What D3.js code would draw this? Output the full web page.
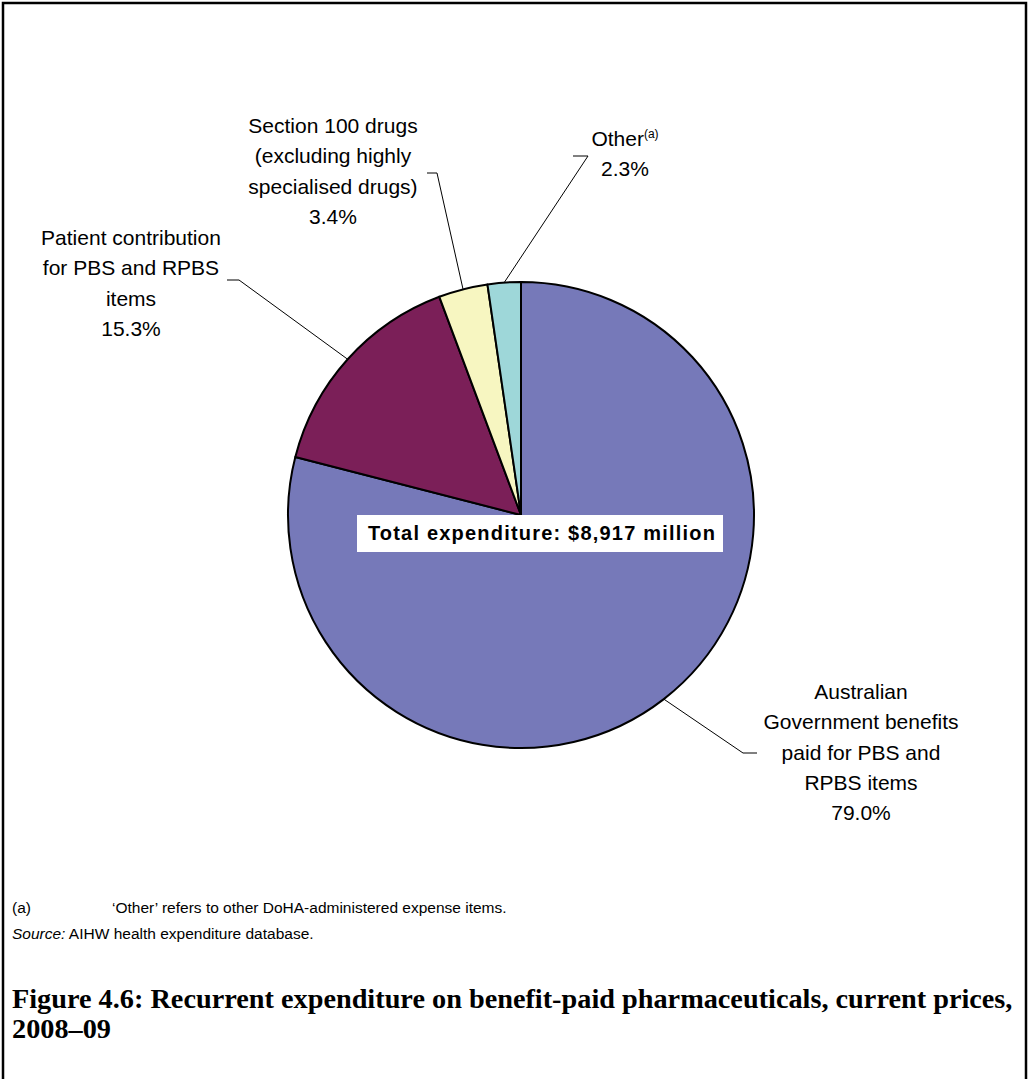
<!DOCTYPE html>
<html><head><meta charset="utf-8">
<script src="https://cdn.jsdelivr.net/npm/d3@7"></script>
<style>body{margin:0;background:#fff}svg{display:block}</style>
</head><body>
<script>
const categories = ["Australian Government benefits paid for PBS and RPBS items",
  "Patient contribution for PBS and RPBS items",
  "Section 100 drugs (excluding highly specialised drugs)",
  "Other"];
const values = [79.0, 15.3, 3.4, 2.3];
const colors = ["#7679B9", "#7B1F58", "#F7F6C1", "#9ED7D9"];
const labelLines = [
  ["Australian", "Government benefits", "paid for PBS and", "RPBS items", "79.0%"],
  ["Patient contribution", "for PBS and RPBS", "items", "15.3%"],
  ["Section 100 drugs", "(excluding highly", "specialised drugs)", "3.4%"],
  ["Other", "2.3%"]
];
// layout (positions only)
const labelPos = [
  {x: 861, y: 699, elbow: [743, 753], end: [757, 753]},
  {x: 131, y: 245, elbow: [239, 280], end: [227, 280]},
  {x: 333, y: 133, elbow: [437, 173], end: [427, 173]},
  {x: 625, y: 146, elbow: [588, 156], end: [573, 156]}
];

const W = 1029, H = 1079;
const svg = d3.select("body").append("svg").attr("width", W).attr("height", H);
svg.append("rect").attr("x", 3).attr("y", 3).attr("width", 1023).attr("height", 1100)
  .attr("fill", "#fff").attr("stroke", "#000").attr("stroke-width", 2.5);

const cx = 521, cy = 515, R = 233;
const pie = d3.pie().sort(null).value(d => d)(values);
const arc = d3.arc().innerRadius(0).outerRadius(R);
const g = svg.append("g").attr("transform", `translate(${cx},${cy})`);
g.selectAll("path").data(pie).join("path")
  .attr("d", arc).attr("fill", (d, i) => colors[i])
  .attr("stroke", "#000").attr("stroke-width", 2).attr("stroke-linejoin", "round");

// leader lines
pie.forEach((d, i) => {
  const a = (d.startAngle + d.endAngle) / 2;
  const px = cx + R * Math.sin(a), py = cy - R * Math.cos(a);
  const lp = labelPos[i];
  svg.append("polyline")
    .attr("points", `${px},${py} ${lp.elbow[0]},${lp.elbow[1]} ${lp.end[0]},${lp.end[1]}`)
    .attr("fill", "none").attr("stroke", "#000").attr("stroke-width", 1);
});

const font = "'Liberation Sans', Arial, sans-serif";
const LH = 30.3;
labelLines.forEach((lines, i) => {
  const lp = labelPos[i];
  lines.forEach((s, j) => {
    const t = svg.append("text").attr("text-anchor", "middle")
      .attr("x", lp.x).attr("y", lp.y + j * LH)
      .attr("font-family", font).attr("font-size", 21).attr("fill", "#000");
    t.append("tspan").text(s);
    if (i === 3 && j === 0) {
      t.append("tspan").attr("dy", -8).attr("font-size", 12).text("(a)");
    }
  });
});

// total box
svg.append("rect").attr("x", 357).attr("y", 515).attr("width", 366).attr("height", 37).attr("fill", "#fff");
svg.append("text").attr("x", 542).attr("y", 540).attr("text-anchor", "middle")
  .attr("font-family", font).attr("font-weight", "bold").attr("font-size", 20)
  .attr("letter-spacing", 1.2)
  .text("Total expenditure: $8,917 million");

// footnotes
svg.append("text").attr("x", 12).attr("y", 913).attr("font-family", font).attr("font-size", 15.5).text("(a)");
svg.append("text").attr("x", 112).attr("y", 913).attr("font-family", font).attr("font-size", 15.5)
  .text("\u2018Other\u2019 refers to other DoHA-administered expense items.");
const src = svg.append("text").attr("x", 12).attr("y", 939).attr("font-family", font).attr("font-size", 15.5);
src.append("tspan").attr("font-style", "italic").text("Source:");
src.append("tspan").text(" AIHW health expenditure database.");

// title
const title = svg.append("text").attr("font-family", "'Liberation Serif', 'DejaVu Serif', serif")
  .attr("font-weight", "bold").attr("font-size", 24).attr("fill", "#000");
title.append("tspan").attr("x", 12).attr("y", 1008)
  .text("Figure 4.6: Recurrent expenditure on benefit-paid pharmaceuticals, current prices,");
title.append("tspan").attr("x", 12).attr("y", 1038).text("2008\u201309");
const w = title.select("tspan").node().getComputedTextLength();
title.attr("font-size", 24 * 1001 / w);
</script>
</body></html>
